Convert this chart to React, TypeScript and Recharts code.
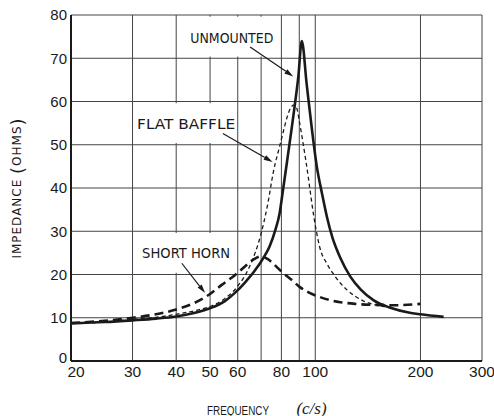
import React from 'react';
import {
  LineChart,
  Line,
  XAxis,
  YAxis,
  CartesianGrid,
  ReferenceLine,
  ReferenceDot,
  ReferenceArea,
} from 'recharts';

// ---------- tick labels ----------
const xTicks = [20, 30, 40, 50, 60, 70, 80, 90, 100, 200, 300];
const xTickLabels = ['20', '30', '40', '50', '60', '', '80', '', '100', '200', '300'];
const yTicks = [0, 10, 20, 30, 40, 50, 60, 70, 80];

// ---------- series: UNMOUNTED (solid) ----------
const unmountedFreq = [20, 25, 30, 35, 40, 45, 50, 55, 59, 63, 67, 71, 74, 77, 79, 81, 83, 85, 87, 89.5, 91.5, 94.5, 98, 101, 104.5, 108, 112, 118, 126, 135, 147, 164, 185, 200, 233];
const unmountedZ = [8.7, 9.0, 9.4, 9.8, 10.3, 11.1, 12.2, 13.8, 15.8, 18.2, 20.8, 23.8, 26.5, 30.5, 34, 40, 46, 52, 58, 66, 74, 64, 53, 45, 38.8, 33.3, 28.5, 23.8, 19.5, 16.5, 14.0, 12.3, 11.2, 10.8, 10.2];

// ---------- series: FLAT BAFFLE (thin dashed) ----------
const baffleFreq = [20, 25, 30, 35, 40, 45, 50, 55, 60, 65, 70, 73, 76, 79, 81, 83, 85, 87, 88.5, 90, 92, 93.7, 95.5, 97, 99, 101, 103, 108, 113, 118, 123, 130, 138, 147, 157, 165];
const baffleZ = [8.7, 9.0, 9.6, 10.1, 10.8, 11.6, 12.6, 14.4, 17.3, 22, 29.5, 36, 44, 49.5, 53, 56.3, 58.5, 59.2, 58.5, 55.5, 51, 47, 42.5, 38.5, 33.5, 29.5, 26.3, 22.5, 20, 18, 16.5, 15, 13.8, 13.1, 12.6, 12.5];

// ---------- series: SHORT HORN (heavy dashed) ----------
const hornFreq = [20, 25, 30, 35, 40, 45, 50, 54, 59, 63, 67, 70, 73, 77, 81, 86, 90, 96, 103, 110, 118, 130, 144, 170, 200];
const hornZ = [8.8, 9.3, 10.0, 10.8, 11.9, 13.4, 15.5, 17.6, 19.9, 21.9, 23.6, 24.2, 23.6, 22, 20.3, 18.6, 17.2, 15.8, 14.8, 14.1, 13.6, 13.2, 13.0, 12.9, 13.2];

// ---------- annotations ----------
const noteLabels = ['UNMOUNTED', 'FLAT BAFFLE', 'SHORT HORN'];
const noteAt = [
  { x: 57.7, y: 74.6 },
  { x: 42.7, y: 54.7 },
  { x: 42.7, y: 24.9 },
];
const noteWidths = [83, 98, 88];
const arrowFrom = [
  { x: 65.1, y: 72.6 },
  { x: 54.4, y: 52.6 },
  { x: 41.5, y: 22.6 },
];
const arrowTo = [
  { x: 86.5, y: 65.8 },
  { x: 75.5, y: 46.0 },
  { x: 48.4, y: 15.7 },
];
const clearBoxes = [
  { x1: 41, x2: 79, y1: 70.4, y2: 79.6 },
  { x1: 30.6, x2: 59.4, y1: 50.4, y2: 59.6 },
  { x1: 30.6, x2: 57, y1: 20.4, y2: 29.6 },
];

const zip = (f: number[], z: number[]) => f.map((v, i) => ({ f: v, z: z[i] }));
const unmounted = zip(unmountedFreq, unmountedZ);
const baffle = zip(baffleFreq, baffleZ);
const horn = zip(hornFreq, hornZ);

const INK = '#1a1a1a';
const TICK_FONT = '"Liberation Sans", Arial, sans-serif';
const NOTE_FONT = '"DejaVu Sans", sans-serif';

function Arrow(p: any) {
  const { x1, y1, x2, y2 } = p;
  const ang = Math.atan2(y2 - y1, x2 - x1);
  const L = 9;
  const W = 2.6;
  const bx = x2 - L * Math.cos(ang);
  const by = y2 - L * Math.sin(ang);
  const px = -Math.sin(ang) * W;
  const py = Math.cos(ang) * W;
  return (
    <g>
      <line x1={x1} y1={y1} x2={bx} y2={by} stroke={INK} strokeWidth={1.2} />
      <polygon points={`${x2},${y2} ${bx + px},${by + py} ${bx - px},${by - py}`} fill={INK} />
    </g>
  );
}

const makeNote = (label: string, len: number) => (p: any) => (
  <text
    x={p.cx}
    y={p.cy}
    textAnchor="middle"
    dominantBaseline="central"
    fontSize={14}
    fontFamily={NOTE_FONT}
    textLength={len}
    lengthAdjust="spacingAndGlyphs"
    fill={INK}
  >
    {label}
  </text>
);

const XTick = (p: any) => {
  const v = p.payload?.value;
  const label = xTickLabels[xTicks.indexOf(v)] ?? '';
  const shift = v === 20 ? 5 : 0;
  return (
    <text
      x={p.x + shift}
      y={p.y}
      dy="0.71em"
      textAnchor="middle"
      fontSize={15.5}
      fontFamily={TICK_FONT}
      fill={INK}
    >
      {label}
    </text>
  );
};

const YTick = (p: any) => {
  const v = p.payload?.value;
  const shift = v === 0 ? -3.5 : 0;
  return (
    <text
      x={p.x}
      y={p.y + shift}
      dy="0.355em"
      textAnchor="end"
      fontSize={15}
      fontFamily={TICK_FONT}
      fill={INK}
    >
      {v}
    </text>
  );
};

const renderYLabel = (props: any) => {
  const vb = props.viewBox || { x: 0, y: 15, width: 71, height: 346 };
  const cx = vb.x + 17;
  const cy = vb.y + vb.height / 2;
  return (
    <text
      x={cx}
      y={cy}
      transform={`rotate(-90 ${cx} ${cy})`}
      textAnchor="middle"
      dominantBaseline="central"
      fontFamily={NOTE_FONT}
      fontSize={12}
      letterSpacing={1}
      fill={INK}
    >
      <tspan>IMPEDANCE </tspan>
      <tspan fontSize={18}>(</tspan>
      <tspan>OHMS</tspan>
      <tspan fontSize={18}>)</tspan>
    </text>
  );
};

const renderXLabel = (props: any) => {
  const vb = props.viewBox || { x: 71, y: 361, width: 411, height: 55 };
  return (
    <g>
      <text
        x={vb.x + 167}
        y={vb.y + 53.5}
        textAnchor="middle"
        fontFamily={TICK_FONT}
        fontSize={12.5}
        textLength={62}
        lengthAdjust="spacingAndGlyphs"
        fill={INK}
      >
        FREQUENCY
      </text>
      <text
        x={vb.x + 240.5}
        y={vb.y + 52.5}
        textAnchor="middle"
        fontFamily='"Liberation Serif", "Times New Roman", serif'
        fontStyle="italic"
        fontSize={17}
        fill={INK}
      >
        (c/s)
      </text>
    </g>
  );
};

export default function App() {
  return (
    <div style={{ position: 'absolute', left: 0, top: 0, background: '#fff' }}>
      <LineChart
        width={494}
        height={416}
        margin={{ top: 15, right: 12, bottom: 0, left: 0 }}
      >
        <CartesianGrid stroke="#444" strokeWidth={1} />
        <XAxis
          dataKey="f"
          type="number"
          scale="log"
          domain={[20, 300]}
          allowDataOverflow
          ticks={xTicks}
          interval={0}
          height={55}
          tickLine={false}
          tickSize={4}
          tickMargin={1}
          axisLine={{ stroke: INK, strokeWidth: 2 }}
          tick={XTick}
          label={renderXLabel}
        />
        <YAxis
          type="number"
          domain={[0, 80]}
          ticks={yTicks}
          interval={0}
          width={71}
          tickLine={false}
          tickSize={3}
          tickMargin={1}
          axisLine={{ stroke: INK, strokeWidth: 2 }}
          tick={YTick}
          label={renderYLabel}
        />
        {clearBoxes.map((b, i) => (
          <ReferenceArea
            key={`box${i}`}
            x1={b.x1}
            x2={b.x2}
            y1={b.y1}
            y2={b.y2}
            fill="#fff"
            fillOpacity={1}
            stroke="none"
          />
        ))}
        <Line
          data={baffle}
          dataKey="z"
          type="monotone"
          stroke={INK}
          strokeWidth={1.3}
          strokeDasharray="4 3"
          dot={false}
          isAnimationActive={false}
        />
        <Line
          data={horn}
          dataKey="z"
          type="monotone"
          stroke={INK}
          strokeWidth={2.6}
          strokeDasharray="9 5"
          dot={false}
          isAnimationActive={false}
        />
        <Line
          data={unmounted}
          dataKey="z"
          type="monotone"
          stroke={INK}
          strokeWidth={2.6}
          dot={false}
          isAnimationActive={false}
        />
        {arrowFrom.map((a, i) => (
          <ReferenceLine key={`arr${i}`} segment={[a, arrowTo[i]]} shape={Arrow} />
        ))}
        {noteLabels.map((t, i) => (
          <ReferenceDot
            key={`note${i}`}
            x={noteAt[i].x}
            y={noteAt[i].y}
            r={0}
            shape={makeNote(t, noteWidths[i])}
          />
        ))}
      </LineChart>
    </div>
  );
}
